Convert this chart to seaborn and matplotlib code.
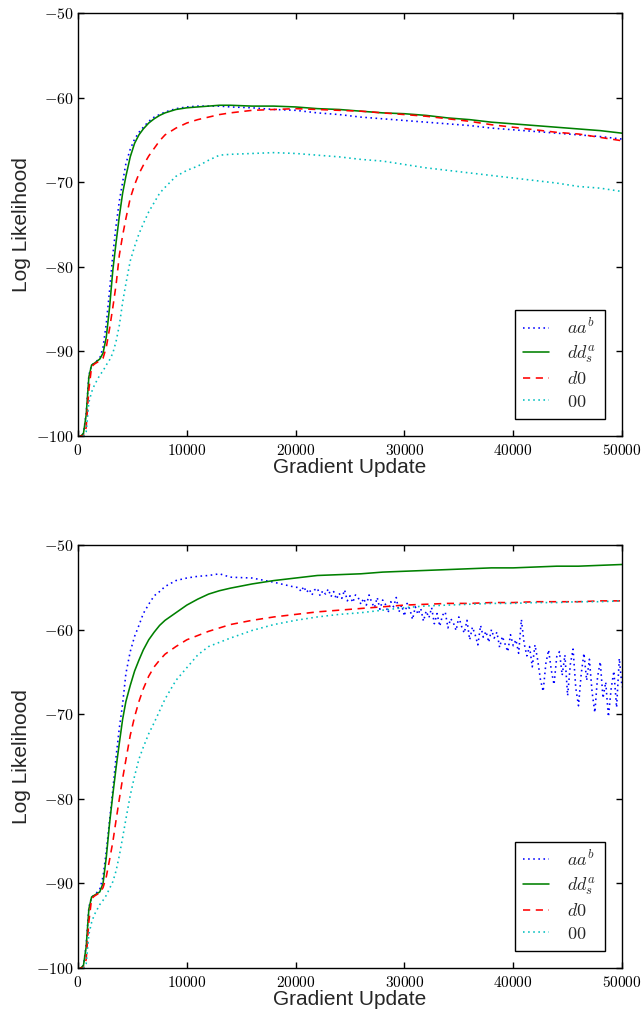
import numpy as np
import matplotlib
matplotlib.use("Agg")
import matplotlib.pyplot as plt
import seaborn as sns
from matplotlib.ticker import FuncFormatter

# sampling grid of the smooth curves (gradient updates)
steps = [0, 250, 500, 750, 1000, 1250, 1500, 2000, 2300, 2600, 2900, 3200,
         3500, 3800, 4100, 4400, 4800, 5200, 5600, 6000, 6500, 7000, 7500,
         8000, 9000, 10000, 11000, 12000, 13000, 14000, 16000, 18000, 20000,
         22000, 24000, 26000, 28000, 30000, 32000, 34000, 36000, 38000,
         40000, 42000, 44000, 46000, 48000, 50000]

# ---- top panel ----
top_aab = [-100, -100, -99.7, -97.3, -92.8, -91.6, -91.4, -90.8, -89.5, -86.7,
           -82.8, -78.6, -75.1, -72.2, -70.0, -67.8, -66.1, -64.9, -64.1, -63.5,
           -62.8, -62.3, -62.0, -61.7, -61.3, -61.1, -61.0, -61.0, -61.0, -61.1,
           -61.2, -61.4, -61.5, -61.8, -62.0, -62.3, -62.5, -62.7, -62.9, -63.1,
           -63.3, -63.6, -63.8, -64.0, -64.2, -64.4, -64.6, -64.9]
top_dds = [-100, -100, -99.7, -97.5, -93.0, -91.6, -91.4, -90.9, -90.2, -88.3,
           -84.8, -80.4, -77.1, -74.0, -71.3, -69.3, -67.0, -65.4, -64.4, -63.7,
           -63.0, -62.5, -62.1, -61.8, -61.4, -61.2, -61.1, -61.0, -60.9, -60.9,
           -61.0, -61.0, -61.1, -61.3, -61.4, -61.6, -61.8, -61.9, -62.1, -62.4,
           -62.6, -62.9, -63.1, -63.3, -63.5, -63.7, -63.9, -64.2]
top_d0 = [-100, -100, -100, -99.0, -94.5, -91.8, -91.5, -91.1, -90.8, -89.5,
          -87.3, -84.8, -82.1, -78.6, -76.3, -74.3, -71.9, -70.3, -69.0, -68.0,
          -66.9, -66.0, -65.1, -64.4, -63.6, -63.0, -62.6, -62.3, -62.0, -61.8,
          -61.5, -61.4, -61.3, -61.4, -61.5, -61.6, -61.8, -62.0, -62.2, -62.5,
          -62.8, -63.2, -63.5, -63.8, -64.1, -64.3, -64.7, -65.1]
top_00 = [-100, -100, -100, -99.5, -96.0, -94.8, -94.0, -92.8, -92.3, -91.6,
          -91.0, -90.2, -88.8, -86.9, -84.2, -82.0, -79.3, -77.6, -76.1, -74.9,
          -73.5, -72.4, -71.3, -70.6, -69.3, -68.6, -68.1, -67.4, -66.8, -66.7,
          -66.6, -66.5, -66.6, -66.8, -67.0, -67.3, -67.5, -67.9, -68.3, -68.6,
          -68.9, -69.2, -69.5, -69.8, -70.1, -70.5, -70.7, -71.1]

# ---- bottom panel ----
bot_dds = [-100, -100, -99.7, -97.5, -93.0, -91.6, -91.4, -91.0, -90.0, -86.9,
           -82.9, -79.5, -76.3, -73.4, -70.6, -68.5, -66.6, -64.9, -63.6, -62.4,
           -61.2, -60.3, -59.5, -58.9, -58.0, -57.1, -56.4, -55.8, -55.4, -55.1,
           -54.6, -54.2, -53.9, -53.6, -53.5, -53.4, -53.2, -53.1, -53.0, -52.9,
           -52.8, -52.7, -52.7, -52.6, -52.5, -52.5, -52.4, -52.3]
bot_d0 = [-100, -100, -100, -99.0, -94.5, -91.8, -91.5, -91.1, -90.5, -89.2,
          -87.2, -85.1, -82.5, -80.0, -77.6, -75.4, -72.5, -70.3, -68.5, -67.0,
          -65.5, -64.4, -63.6, -62.9, -62.0, -61.2, -60.7, -60.2, -59.8, -59.4,
          -58.9, -58.5, -58.2, -57.9, -57.7, -57.5, -57.3, -57.1, -57.0, -56.9,
          -56.9, -56.8, -56.8, -56.7, -56.7, -56.7, -56.6, -56.6]
bot_00 = [-100, -100, -100, -99.5, -96.0, -94.6, -93.7, -92.5, -92.0, -91.4,
          -90.6, -89.8, -88.5, -86.7, -84.6, -82.4, -79.6, -77.3, -75.3, -73.9,
          -72.3, -71.0, -69.6, -68.2, -66.0, -64.5, -63.0, -62.0, -61.5, -61.0,
          -60.1, -59.4, -58.9, -58.5, -58.2, -58.0, -57.7, -57.4, -57.2, -57.1,
          -57.0, -56.9, -56.9, -56.8, -56.8, -56.7, -56.7, -56.6]

# aa^b in the bottom panel: smooth up to 20000, then noisy (logged every 250)
bot_aab_steps_early = steps[:33]
bot_aab_early = [-100, -100, -99.7, -97.3, -92.8, -91.6, -91.4, -90.7, -89.2,
                 -86.2, -82.6, -78.9, -75.0, -71.6, -68.8, -65.2, -62.6, -60.8,
                 -59.5, -58.1, -57.0, -56.0, -55.5, -54.9, -54.2, -53.9, -53.7,
                 -53.6, -53.4, -53.8, -53.9, -54.4, -55.0]
bot_aab_steps_late = np.arange(20250, 50001, 250)
bot_aab_late = [
    -55.0, -55.5, -54.9, -55.6, -55.2, -55.9, -55.3, -55.1, -56.0, -55.4, -55.8, -55.2,
    -56.1, -55.5, -56.4, -55.7, -56.3, -55.3, -56.6, -56.0, -56.8, -55.9, -56.2, -57.0,
    -56.3, -57.1, -55.9, -56.8, -57.4, -56.2, -57.6, -56.5, -57.0, -58.0, -56.7, -57.3,
    -56.2, -57.9, -57.1, -58.4, -56.9, -57.6, -58.8, -57.3, -58.2, -57.5, -59.0, -57.8,
    -58.6, -57.4, -59.3, -58.1, -59.6, -58.3, -57.9, -59.8, -58.7, -59.2, -60.1, -58.5,
    -59.6, -60.4, -58.9, -61.2, -59.7, -60.6, -61.8, -59.5, -60.9, -60.2, -61.5, -60.0,
    -61.0, -60.3, -62.1, -60.8, -61.7, -62.6, -60.6, -61.9, -61.2, -62.8, -58.8, -61.6,
    -63.1, -62.0, -64.4, -61.8, -63.6, -65.9, -67.3, -64.0, -62.4, -64.8, -66.5, -63.2,
    -62.6, -65.4, -63.0, -67.8, -64.1, -62.3, -66.9, -69.0, -65.2, -62.8, -66.0, -63.5,
    -67.4, -69.8, -65.6, -63.8, -68.1, -66.2, -70.3, -67.0, -64.9, -69.2, -63.4, -66.8]

labels = [r"$aa^b$", r"$dd_s^a$", r"$d0$", r"$00$"]
colors = ["b", "g", "r", "c"]
styles = [(0, (1, 2.2)), "-", (0, (4.5, 3.5)), (0, (1, 2.2))]

sns.set_style("ticks")
plt.rcParams["font.family"] = ["Liberation Sans", "DejaVu Sans"]
plt.rcParams["mathtext.fontset"] = "cm"

fig = plt.figure(figsize=(6.41, 10.11), dpi=100)
ax1 = fig.add_axes([0.1217, 0.5687, 0.8487, 0.4184])
ax2 = fig.add_axes([0.1217, 0.0425, 0.8487, 0.4184])

top_series = [(steps, top_aab), (steps, top_dds), (steps, top_d0), (steps, top_00)]
bot_aab_x = list(bot_aab_steps_early) + list(bot_aab_steps_late)
bot_aab_y = bot_aab_early + bot_aab_late
bot_series = [(bot_aab_x, bot_aab_y), (steps, bot_dds), (steps, bot_d0), (steps, bot_00)]

tick_fmt = FuncFormatter(lambda v, p: r"$%d$" % int(round(v)))

for ax, series in [(ax1, top_series), (ax2, bot_series)]:
    for (xs, ys), lab, col, ls in zip(series, labels, colors, styles):
        sns.lineplot(x=xs, y=ys, ax=ax, color=col, linestyle=ls, linewidth=1.15,
                     label=lab, errorbar=None, sort=False)
    ax.set_xlim(0, 50000)
    ax.set_ylim(-100, -50)
    ax.set_xticks(range(0, 50001, 10000))
    ax.set_yticks(range(-100, -49, 10))
    ax.xaxis.set_major_formatter(tick_fmt)
    ax.yaxis.set_major_formatter(tick_fmt)
    ax.tick_params(which="both", direction="in", top=True, right=True,
                   length=4, width=1, labelsize=11, colors="black")
    ax.tick_params(axis="x", pad=5)
    ax.tick_params(axis="y", pad=3, labelsize=11.5)
    for sp in ax.spines.values():
        sp.set_visible(True)
        sp.set_color("black")
        sp.set_linewidth(1.0)
    ax.set_xlabel("Gradient Update", fontsize=15, labelpad=0)
    ax.set_ylabel("Log Likelihood", fontsize=15, labelpad=4)
    leg = ax.legend(loc="lower right", fontsize=13, fancybox=False,
                    framealpha=1, edgecolor="black", handlelength=1.45,
                    labelspacing=0.32, borderaxespad=0.95, handletextpad=1.0,
                    borderpad=0.45)
    leg.get_frame().set_linewidth(1.0)

fig.savefig("out.png", dpi=100)
